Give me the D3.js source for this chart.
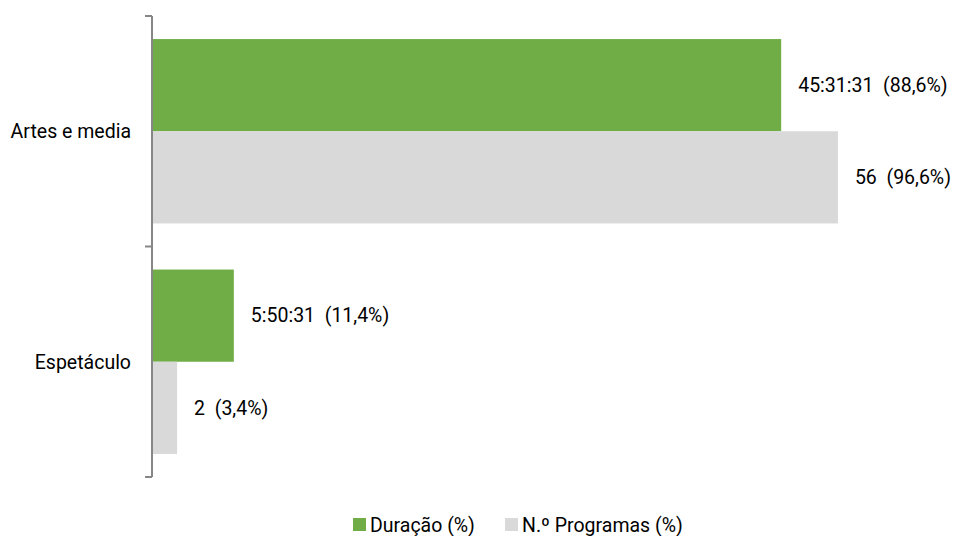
<!DOCTYPE html>
<html>
<head>
<meta charset="utf-8">
<script src="https://cdn.jsdelivr.net/npm/d3@7"></script>
<style>
  body { margin: 0; background: #fff; }
  svg text { font-family: Roboto, "DejaVu Sans", sans-serif; fill: #000; white-space: pre; }
</style>
</head>
<body>
<svg id="chart" width="960" height="536"></svg>
<script>
// Categories and series
const categories = ["Artes e media", "Espetáculo"];
const seriesNames = ["Duração (%)", "N.º Programas (%)"];
const seriesColors = ["#70AD47", "#D9D9D9"];
const duracaoPct = [88.6, 11.4];
const programasPct = [96.6, 3.4];
const duracaoLabels = ["45:31:31  (88,6%)", "5:50:31  (11,4%)"];
const programasLabels = ["56  (96,6%)", "2  (3,4%)"];

const rows = categories.map((c, i) => ({
  cat: c,
  values: [
    { s: 0, v: duracaoPct[i], label: duracaoLabels[i] },
    { s: 1, v: programasPct[i], label: programasLabels[i] }
  ]
}));

const svg = d3.select("#chart");
const plotLeft = 153, plotRight = 862, plotTop = 16, plotBottom = 477;
const fontSize = 19.5;

const x = d3.scaleLinear().domain([0, 100]).range([plotLeft, plotRight]);
const y = d3.scaleBand().domain(categories).range([plotTop, plotBottom])
  .paddingInner(0.2).paddingOuter(0.1);
const ySub = d3.scaleBand().domain([0, 1]).range([0, y.bandwidth()]);

// Bars
const groups = svg.append("g").selectAll("g").data(rows).join("g")
  .attr("transform", d => `translate(0,${y(d.cat)})`);

groups.selectAll("rect").data(d => d.values).join("rect")
  .attr("x", x(0))
  .attr("y", d => ySub(d.s))
  .attr("width", d => x(d.v) - x(0))
  .attr("height", ySub.bandwidth())
  .attr("fill", d => seriesColors[d.s]);

// Value labels
groups.selectAll("text").data(d => d.values).join("text")
  .attr("x", d => x(d.v) + 17)
  .attr("y", d => ySub(d.s) + ySub.bandwidth() / 2)
  .attr("dy", "0.35em")
  .attr("font-size", fontSize)
  .text(d => d.label);

// Category axis: boundaries between categories
const axisG = svg.append("g").attr("transform", `translate(${plotLeft - 1},0)`);
const bounds = [plotTop, (plotTop + plotBottom) / 2, plotBottom];
axisG.append("line")
  .attr("x1", 0).attr("x2", 0)
  .attr("y1", plotTop).attr("y2", plotBottom)
  .attr("stroke", "#868686").attr("stroke-width", 2);
axisG.selectAll("line.tick").data(bounds).join("line")
  .attr("class", "tick")
  .attr("x1", -7).attr("x2", 0)
  .attr("y1", d => d).attr("y2", d => d)
  .attr("stroke", "#868686").attr("stroke-width", 2);

// Category labels
svg.append("g").selectAll("text").data(categories).join("text")
  .attr("x", 131)
  .attr("y", d => y(d) + y.bandwidth() / 2)
  .attr("dy", "0.35em")
  .attr("text-anchor", "end")
  .attr("font-size", fontSize)
  .text(d => d);

// Legend
const legendItems = [
  { name: seriesNames[0], color: seriesColors[0], x: 353 },
  { name: seriesNames[1], color: seriesColors[1], x: 505 }
];
const legend = svg.append("g").selectAll("g").data(legendItems).join("g")
  .attr("transform", d => `translate(${d.x},518)`);
legend.append("rect").attr("width", 13).attr("height", 13).attr("fill", d => d.color);
legend.append("text").attr("x", 17).attr("y", 7).attr("dy", "0.35em")
  .attr("font-size", fontSize).text(d => d.name);
</script>
</body>
</html>
